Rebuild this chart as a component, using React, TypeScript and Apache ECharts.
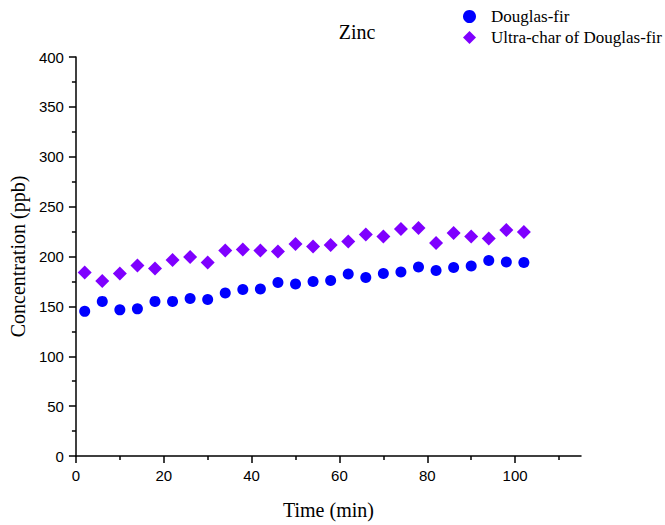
import React, { useEffect, useRef } from "react";
import * as echarts from "echarts";

const timeMin = [2, 6, 10, 14, 18, 22, 26, 30, 34, 38, 42, 46, 50, 54, 58, 62, 66, 70, 74, 78, 82, 86, 90, 94, 98, 102];
const douglasFir = [145, 155, 146.5, 147.5, 155, 155, 158, 157, 163.5, 167, 167.5, 174, 172.5, 175, 176, 182.5, 179, 183, 184.5, 189.5, 186, 189, 190.5, 196, 194.5, 194];
const ultraChar = [184, 175.5, 183, 191, 188, 196.5, 199.5, 194, 206, 207, 206, 205, 212.5, 210, 211.5, 215, 222, 220, 227.5, 228.5, 213.5, 223.5, 220, 218, 226.5, 224.5];
const xMajorTicks = [0, 20, 40, 60, 80, 100];
const xMinorTicks = [10, 30, 50, 70, 90, 110];

export default function App() {
  const ref = useRef<HTMLDivElement>(null);
  useEffect(() => {
    if (!ref.current) return;
    const chart = echarts.init(ref.current, null, { renderer: "svg" });
    const serif = "'Liberation Serif', 'Times New Roman', serif";
    const sans = "'Liberation Sans', Arial, sans-serif";
    chart.setOption({
      animation: false,
      backgroundColor: "#fff",
      title: {
        text: "Zinc",
        left: 352,
        top: 17,
        textAlign: "center",
        textStyle: { fontFamily: serif, fontSize: 20, fontWeight: "normal", color: "#000" },
      },
      legend: {
        orient: "vertical",
        left: 458,
        top: 3,
        itemWidth: 13,
        itemHeight: 13,
        itemGap: 4,
        textStyle: { fontFamily: serif, fontSize: 17, color: "#000", padding: [0, 0, 0, 10] },
        data: [
          { name: "Douglas-fir", icon: "circle" },
          { name: "Ultra-char of Douglas-fir", icon: "diamond" },
        ],
      },
      grid: { left: 75, top: 57, right: 84, bottom: 64, containLabel: false },
      xAxis: [
        {
          type: "value",
          min: 0,
          max: 115,
          interval: 20,
          name: "Time (min)",
          nameLocation: "middle",
          nameGap: 44,
          nameTextStyle: { fontFamily: serif, fontSize: 20, color: "#000" },
          axisLine: { onZero: false, lineStyle: { color: "#000", width: 1.5 } },
          axisTick: { show: true, inside: false, length: 7, customValues: xMajorTicks, lineStyle: { color: "#000", width: 1.5 } },
          axisLabel: { customValues: xMajorTicks, margin: 12, fontFamily: sans, fontSize: 15, color: "#000" },
          splitLine: { show: false },
        },
        {
          type: "value",
          min: 0,
          max: 115,
          position: "bottom",
          axisLine: { show: false, onZero: false },
          axisTick: { show: true, inside: false, length: 4, customValues: xMinorTicks, lineStyle: { color: "#000", width: 1.5 } },
          axisLabel: { show: false },
          splitLine: { show: false },
        },
      ],
      yAxis: {
        type: "value",
        min: 0,
        max: 400,
        interval: 50,
        name: "Concentration (ppb)",
        nameLocation: "middle",
        nameGap: 47,
        nameTextStyle: { fontFamily: serif, fontSize: 20, color: "#000" },
        axisLine: { show: true, lineStyle: { color: "#000", width: 1.5 } },
        axisTick: { show: true, inside: false, length: 7, lineStyle: { color: "#000", width: 1.5 } },
        minorTick: { show: true, splitNumber: 2, length: 4, lineStyle: { color: "#000", width: 1.5 } },
        axisLabel: { margin: 12, fontFamily: sans, fontSize: 15, color: "#000" },
        splitLine: { show: false },
        minorSplitLine: { show: false },
      },
      series: [
        {
          name: "Douglas-fir",
          type: "scatter",
          symbol: "circle",
          symbolSize: 11,
          itemStyle: { color: "#0000FF", opacity: 1 },
          data: timeMin.map((t, i) => [t, douglasFir[i]]),
        },
        {
          name: "Ultra-char of Douglas-fir",
          type: "scatter",
          symbol: "diamond",
          symbolSize: 14,
          itemStyle: { color: "#7F00FF", opacity: 1 },
          data: timeMin.map((t, i) => [t, ultraChar[i]]),
        },
      ],
    });
    return () => chart.dispose();
  }, []);
  return <div ref={ref} style={{ position: "absolute", left: 0, top: 0, width: 665, height: 525 }} />;
}
